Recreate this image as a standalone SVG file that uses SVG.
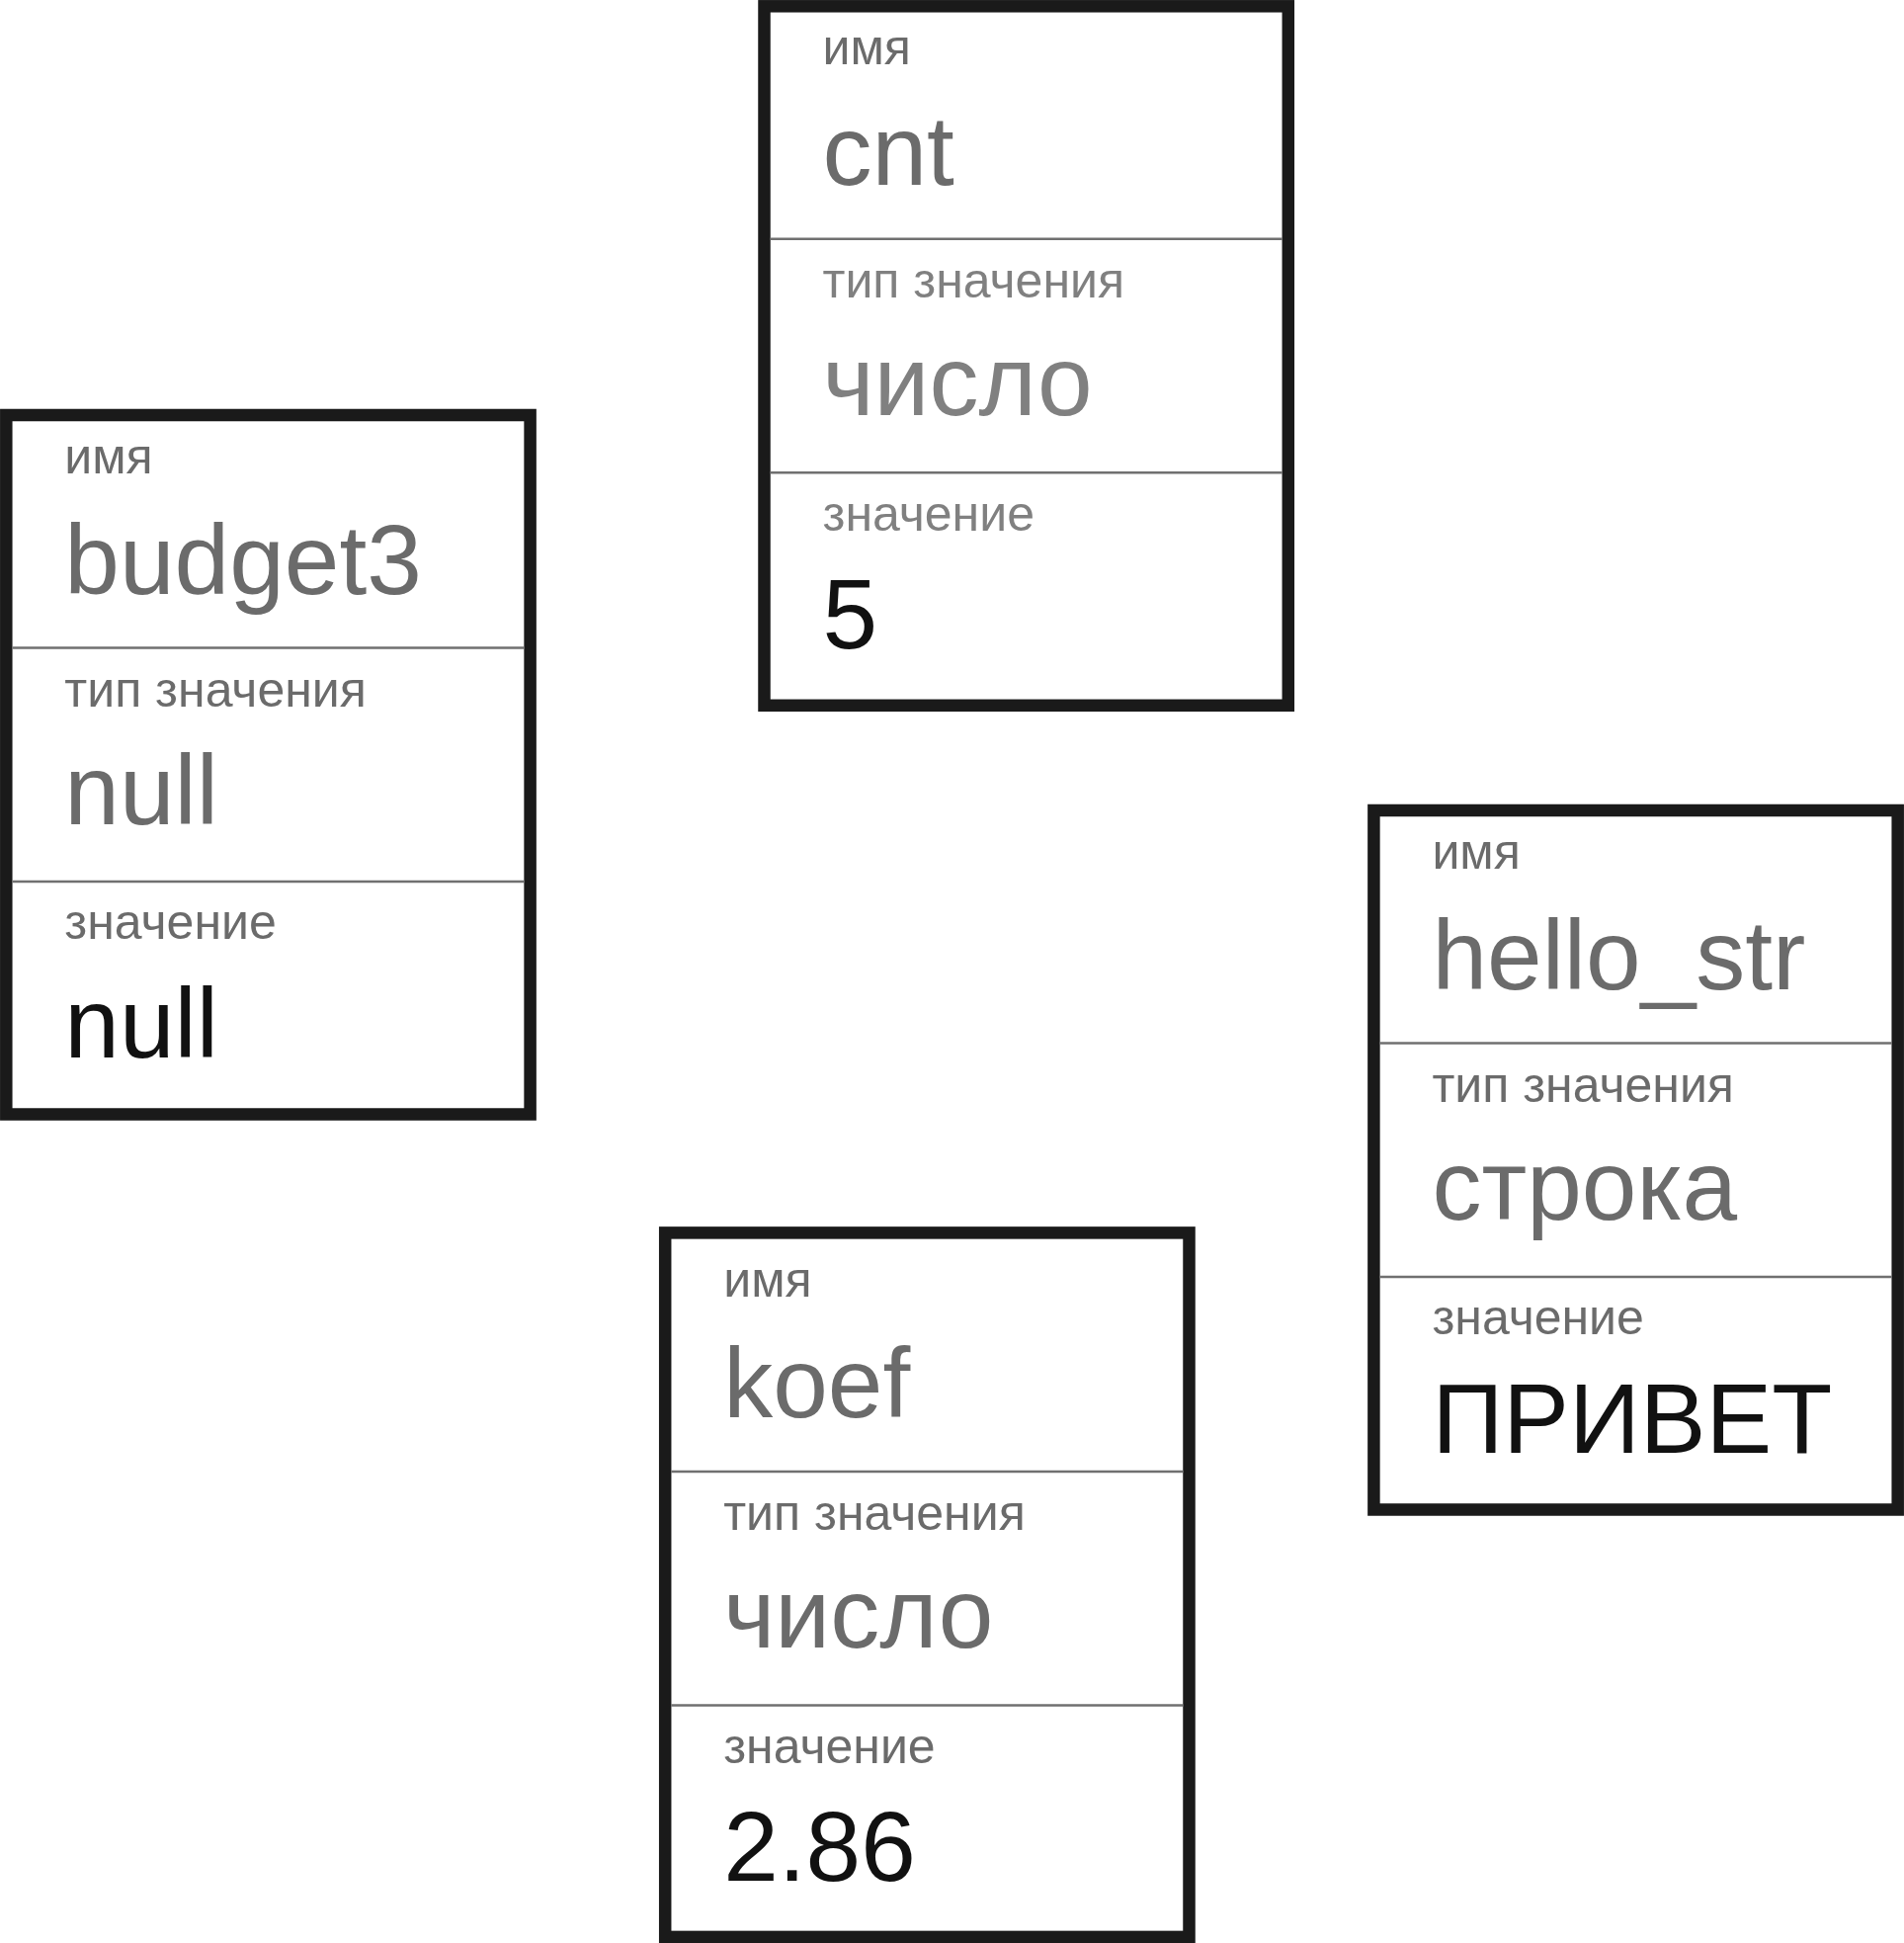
<svg xmlns="http://www.w3.org/2000/svg" width="1927" height="1966" viewBox="0 0 1927 1966">
<style>
.frame{fill:#ffffff;stroke:#1a1a1a;stroke-width:12.5}
.sep{stroke:#707070;stroke-width:2.5}
.lbl{font-family:"Liberation Sans",Arial,sans-serif;font-size:50px;fill:#6b6b6b}
.big{font-family:"Liberation Sans",Arial,sans-serif;font-size:100px;fill:#6b6b6b}
.val{font-family:"Liberation Sans",Arial,sans-serif;font-size:100px;fill:#111111}
.lt{fill:#808080}
</style>
<rect x="0" y="0" width="1927" height="1966" fill="#ffffff"/>
<g id="connectors"/>
<g id="node-cnt" transform="translate(773.5,6.3)">
<rect class="frame" x="0" y="0" width="530.3" height="707.5"/>
<line class="sep" x1="6" y1="235.5" x2="524.3" y2="235.5"/>
<line class="sep" x1="6" y1="472" x2="524.3" y2="472"/>
<text class="lbl" x="59" y="58.9">имя</text>
<text class="big" x="59" y="180.5">cnt</text>
<text class="lbl lt" x="59" y="295">тип значения</text>
<text class="big lt" x="59" y="413.7">число</text>
<text class="lbl lt" x="59" y="530.3">значение</text>
<text class="val" x="59" y="650">5</text>
</g>
<g id="node-budget3" transform="translate(6.3,420)">
<rect class="frame" x="0" y="0" width="530.3" height="707.5"/>
<line class="sep" x1="6" y1="235.5" x2="524.3" y2="235.5"/>
<line class="sep" x1="6" y1="472" x2="524.3" y2="472"/>
<text class="lbl" x="59" y="58.9">имя</text>
<text class="big" x="59" y="180.5">budget3</text>
<text class="lbl" x="59" y="295">тип значения</text>
<text class="big" x="59" y="413.7">null</text>
<text class="lbl" x="59" y="530.3">значение</text>
<text class="val" x="59" y="650">null</text>
</g>
<g id="node-hello_str" transform="translate(1390.4,820)">
<rect class="frame" x="0" y="0" width="530.3" height="707.5"/>
<line class="sep" x1="6" y1="235.5" x2="524.3" y2="235.5"/>
<line class="sep" x1="6" y1="472" x2="524.3" y2="472"/>
<text class="lbl" x="59" y="58.9">имя</text>
<text class="big" x="59" y="180.5">hello_str</text>
<text class="lbl" x="59" y="295">тип значения</text>
<text class="big" x="59" y="413.7">строка</text>
<text class="lbl" x="59" y="530.3">значение</text>
<text class="val" x="59" y="650">ПРИВЕТ</text>
</g>
<g id="node-koef" transform="translate(673.2,1253.4)">
<rect class="frame" x="0" y="-6" width="530.3" height="712.5"/>
<line class="sep" x1="6" y1="235.5" x2="524.3" y2="235.5"/>
<line class="sep" x1="6" y1="472" x2="524.3" y2="472"/>
<text class="lbl" x="59" y="58.9">имя</text>
<text class="big" x="59" y="180.5">koef</text>
<text class="lbl" x="59" y="295">тип значения</text>
<text class="big" x="59" y="413.7">число</text>
<text class="lbl" x="59" y="530.3">значение</text>
<text class="val" x="59" y="650">2.86</text>
</g>
</svg>
